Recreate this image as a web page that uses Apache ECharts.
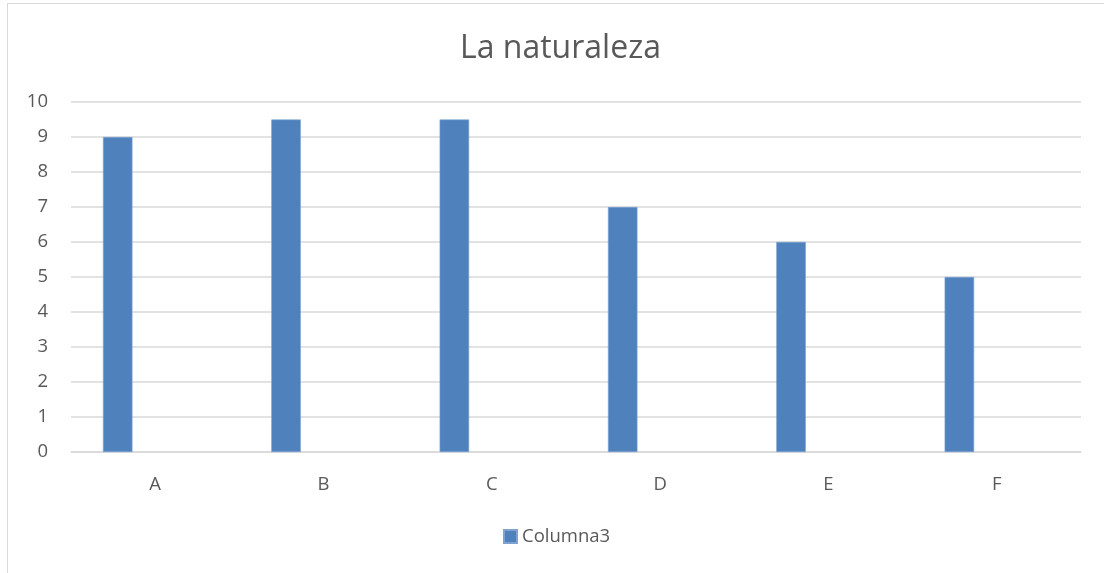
<!DOCTYPE html>
<html>
<head>
<meta charset="utf-8">
<script src="https://cdn.jsdelivr.net/npm/echarts@6/dist/echarts.min.js"></script>
<style>
  html, body { margin: 0; padding: 0; background: #fff; }
  #frame { position: absolute; left: 7px; top: 3px; width: 1096px; height: 600px;
           border-left: 1px solid #d9d9d9; border-top: 1px solid #d9d9d9; }
  #chart { position: absolute; left: 0; top: 0; width: 1106px; height: 573px; }
</style>
</head>
<body>
<div id="frame"></div>
<div id="chart"></div>
<script>
// chart data
const categories = ['A', 'B', 'C', 'D', 'E', 'F'];
const columna3 = [9, 9.5, 9.5, 7, 6, 5];
const emptySeries = [];

const textColor = '#595959';
const gridColor = '#d9d9d9';
const font = '"Open Sans", "Noto Sans", sans-serif';

const chart = echarts.init(document.getElementById('chart'));

const option = {
  animation: false,
  title: {
    text: 'La naturaleza',
    left: 455,
    top: 28,
    textStyle: { color: textColor, fontSize: 32, fontWeight: 'normal', fontFamily: font }
  },
  legend: {
    data: ['Columna3'],
    bottom: 22,
    left: 498,
    itemWidth: 13,
    itemHeight: 13,
    icon: 'rect',
    textStyle: { color: textColor, fontSize: 18.5, fontFamily: font }
  },
  grid: { left: 71, right: 25, top: 102, bottom: 121 },
  xAxis: {
    type: 'category',
    data: categories,
    axisLine: { lineStyle: { color: gridColor, width: 1.5 } },
    axisTick: { show: false },
    axisLabel: { color: textColor, fontSize: 18.5, fontFamily: font, margin: 23 }
  },
  yAxis: {
    type: 'value',
    min: 0,
    max: 10,
    interval: 1,
    axisLine: { show: false },
    axisTick: { show: false },
    splitLine: { lineStyle: { color: gridColor, width: 1.5 } },
    axisLabel: { color: textColor, fontSize: 18.5, fontFamily: font, margin: 23 }
  },
  series: [
    {
      name: 'Columna3',
      type: 'bar',
      data: columna3,
      barWidth: 29.5,
      barGap: '27%',
      itemStyle: { color: '#4f81bd', borderColor: '#7ea3d3', borderWidth: 0.6 }
    },
    { name: 'placeholder1', type: 'bar', data: emptySeries, barWidth: 29.5 },
    { name: 'placeholder2', type: 'bar', data: emptySeries, barWidth: 29.5 }
  ]
};

chart.setOption(option);
</script>
</body>
</html>
